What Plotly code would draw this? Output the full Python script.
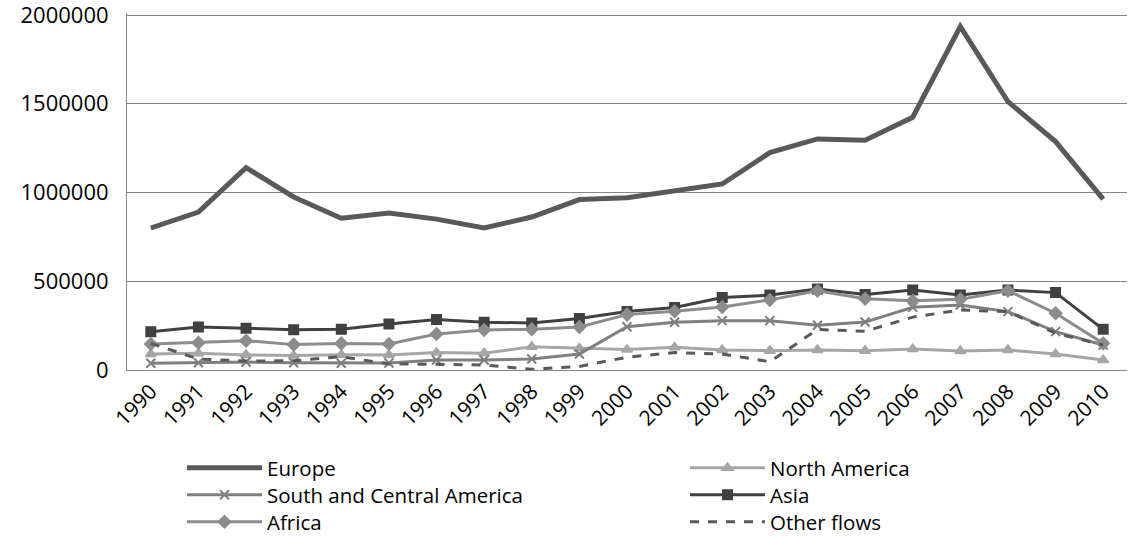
import plotly.graph_objects as go

years = [str(y) for y in range(1990, 2011)]

europe = [800000, 890000, 1140000, 975000, 855000, 885000, 850000, 800000, 862000, 960000,
          970000, 1010000, 1048000, 1225000, 1302000, 1295000, 1424000, 1935000, 1512000, 1287000, 963000]
north_america = [90000, 94000, 85000, 81000, 86000, 85000, 98000, 95000, 131000, 122000,
                 115000, 128000, 113000, 109000, 113000, 109000, 118000, 107000, 113000, 90000, 56000]
south_central_america = [38000, 41000, 45000, 41000, 38000, 39000, 56000, 56000, 62000, 90000,
                         244000, 269000, 278000, 278000, 252000, 270000, 353000, 366000, 329000, 216000, 141000]
asia = [216000, 242000, 235000, 227000, 229000, 259000, 284000, 269000, 265000, 290000,
        330000, 352000, 408000, 422000, 456000, 425000, 451000, 423000, 451000, 436000, 229000]
africa = [147000, 154000, 165000, 143000, 150000, 147000, 203000, 226000, 229000, 242000,
          312000, 331000, 355000, 395000, 447000, 401000, 390000, 398000, 447000, 320000, 150000]
other_flows = [150000, 62000, 51000, 52000, 75000, 34000, 32000, 28000, 4000, 20000,
               72000, 98000, 90000, 47000, 228000, 218000, 298000, 338000, 329000, 207000, 141000]

y_ticks = [0, 500000, 1000000, 1500000, 2000000]

# name, values, colour, width, marker, dash, legend id
series = [
    ("Europe", europe, "#595959", 5, None, "solid", "legend"),
    ("North America", north_america, "#a6a6a6", 3, "triangle-up", "solid", "legend2"),
    ("South and Central America", south_central_america, "#7f7f7f", 3, "x-thin", "solid", "legend3"),
    ("Asia", asia, "#404040", 3, "square", "solid", "legend4"),
    ("Africa", africa, "#8c8c8c", 3, "diamond", "solid", "legend5"),
    ("Other flows", other_flows, "#595959", 3, None, "dash", "legend6"),
]

fig = go.Figure()
for name, vals, color, width, symbol, dash, leg in series:
    if symbol:
        mode = "lines+markers"
        marker = dict(symbol=symbol, size=9, color=color, line=dict(color=color, width=2))
    else:
        mode = "lines"
        marker = None
    fig.add_trace(go.Scatter(
        x=years, y=vals, name=name, mode=mode, marker=marker,
        line=dict(color=color, width=width, dash=dash), legend=leg,
    ))

W, H = 1129, 547
L, T = 127, 13
PLOT_H = 357  # a little headroom so the top gridline is not clipped

def leg_box(col, row):
    x = 0.055 if col == 0 else 0.558
    y = 1 - (468 + 27 * row) / H
    return dict(x=x, y=y, xref="paper", yref="container", xanchor="left", yanchor="middle",
                itemwidth=75, font=dict(size=20.5), bgcolor="rgba(0,0,0,0)")

fig.update_layout(
    width=W, height=H,
    margin=dict(l=L, r=2, t=T, b=H - T - PLOT_H),
    plot_bgcolor="white", paper_bgcolor="white",
    font=dict(family="Open Sans, Lato, sans-serif", size=22, color="#000000"),
    legend=leg_box(0, 0),
    legend2=leg_box(1, 0),
    legend3=leg_box(0, 1),
    legend4=leg_box(1, 1),
    legend5=leg_box(0, 2),
    legend6=leg_box(1, 2),
    showlegend=True,
)
fig.update_xaxes(
    type="category", range=[-0.5, 20.5], tickangle=-45, showgrid=False,
    showline=True, linecolor="#868686", linewidth=1,
    tickfont=dict(size=21), automargin=False,
)
fig.update_yaxes(
    range=[0, 2011300], tickmode="array", tickvals=y_ticks,
    ticktext=[str(v) for v in y_ticks],
    showgrid=True, gridcolor="#868686", gridwidth=1,
    showline=True, linecolor="#868686", linewidth=1,
    zeroline=False, tickfont=dict(size=22), ticklabelstandoff=13,
    ticklabeloverflow="allow", automargin=False,
)

# drop the default page margin so the figure sits at the window's corner
fig.write_html(
    "out.html",
    config={"displayModeBar": False},
    post_script="document.body.style.margin='0';",
)
